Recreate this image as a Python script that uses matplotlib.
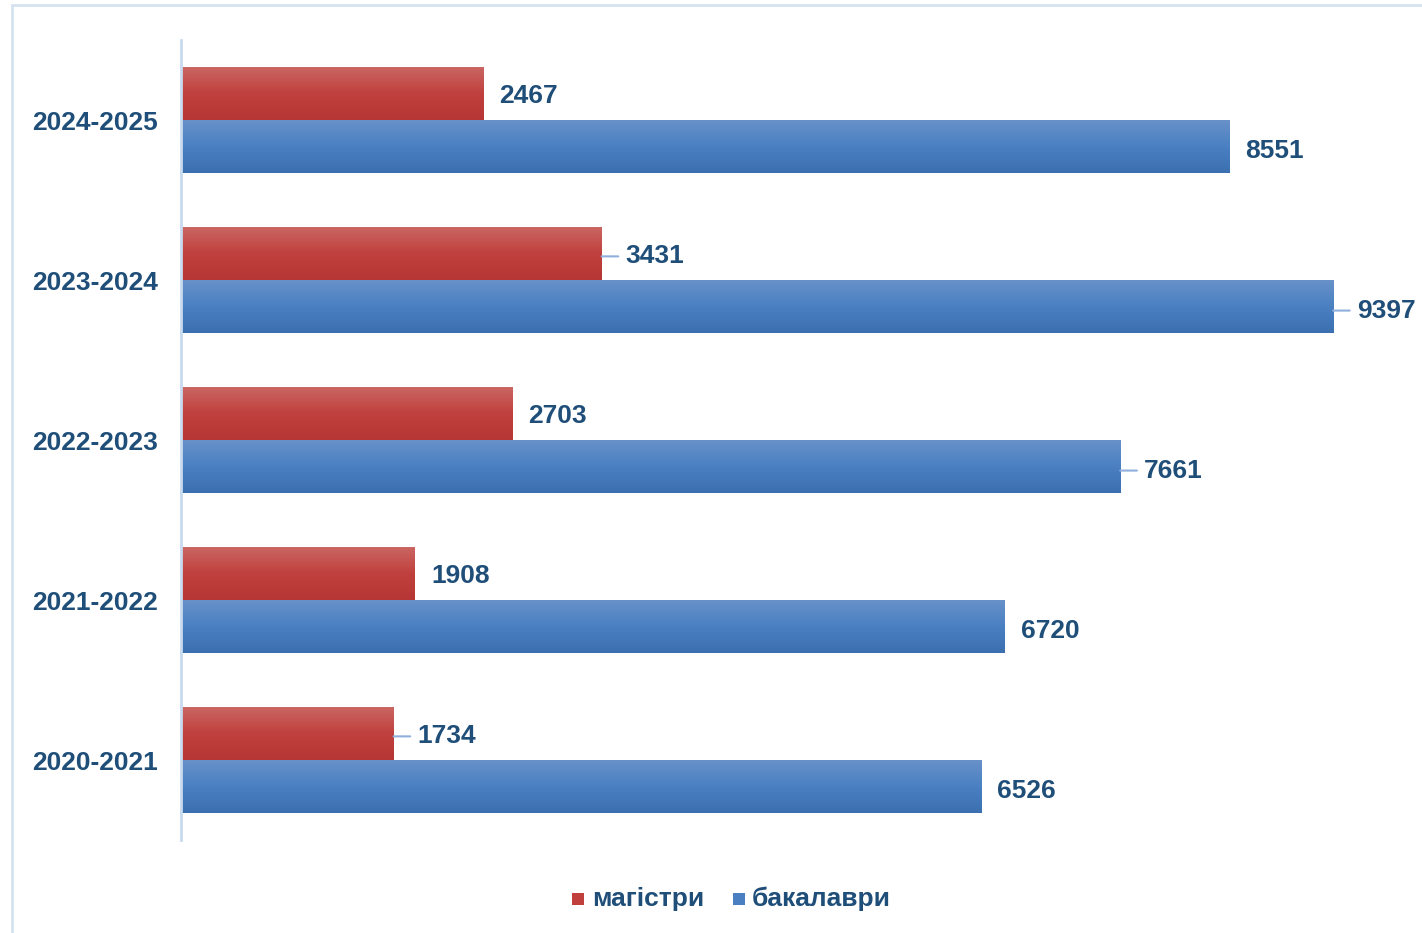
import matplotlib.pyplot as plt
import numpy as np
from matplotlib.patches import Rectangle
from matplotlib.colors import LinearSegmentedColormap
from matplotlib.transforms import offset_copy

years = ["2020-2021", "2021-2022", "2022-2023", "2023-2024", "2024-2025"]
masters = [1734, 1908, 2703, 3431, 2467]
bachelors = [6526, 6720, 7661, 9397, 8551]
# labels that Excel pulled out with a small leader line
masters_leader = [True, False, False, True, False]
bachelors_leader = [False, False, True, True, False]

text_color = "#1f4e79"
font = {'family': 'Liberation Sans', 'weight': 'bold', 'size': 19, 'color': text_color}

red_cmap = LinearSegmentedColormap.from_list("red", ["#b53634", "#c0403d", "#ca6663"])
blue_cmap = LinearSegmentedColormap.from_list("blue", ["#3b6fb0", "#4a80c2", "#6891c8"])

fig = plt.figure(figsize=(14.22, 9.33), dpi=100)
ax = fig.add_axes([181 / 1422, 1 - 840 / 933, (1407 - 181) / 1422, 800 / 933])

# outer chart border
fig.patches.append(Rectangle((12 / 1422, -0.1), 1.2, 1.1 - 5 / 933, transform=fig.transFigure,
                             fill=False, edgecolor="#d6e2f1", linewidth=2))

h = 0.33
y = np.arange(len(years))
grad = np.linspace(0, 1, 100).reshape(-1, 1)


def gradient_bars(ypos, values, cmap, leaders, dy):
    bars = ax.barh(ypos, values, height=h, color="none", edgecolor="none")
    shifted = offset_copy(ax.transData, fig=fig, x=0, y=dy, units="points")
    for b, v, lead in zip(bars, values, leaders):
        x0, y0 = b.get_x(), b.get_y()
        ax.imshow(grad, cmap=cmap, aspect="auto", origin="lower",
                  extent=[x0, x0 + b.get_width(), y0, y0 + b.get_height()], zorder=2)
        yc = y0 + b.get_height() / 2
        if lead:
            ax.annotate("", xy=(v, yc), xycoords=shifted, xytext=(12, 0), textcoords="offset points",
                        arrowprops=dict(arrowstyle="-", color="#8fb0dc", lw=1.5,
                                        shrinkA=0, shrinkB=0))
            off = 17
        else:
            off = 11.5
        ax.annotate(str(v), xy=(v, yc), xycoords=shifted, xytext=(off, 0), textcoords="offset points",
                    va="center", ha="left", **font)
    return bars


gradient_bars(y + h / 2, masters, red_cmap, masters_leader, -2)
gradient_bars(y - h / 2, bachelors, blue_cmap, bachelors_leader, -3)

ax.set_xlim(0, 10000)
ax.set_ylim(-0.5, 4.5)
ax.set_yticks(y)
ax.set_yticklabels(years, **font)
ax.tick_params(axis="y", length=0, pad=16.5)
ax.set_xticks([])
for s in ["top", "right", "bottom"]:
    ax.spines[s].set_visible(False)
ax.spines["left"].set_color("#c9daf0")
ax.spines["left"].set_linewidth(2)

# legend
lx = 572 / 1422
ly = 1 - 899 / 933
fig.patches.append(Rectangle((lx, ly - 6 / 933), 12 / 1422, 12 / 933, transform=fig.transFigure,
                             facecolor="#c0403d", edgecolor="none"))
fig.text(lx + 20 / 1422, ly, "магістри", va="center", ha="left", **font)
fig.patches.append(Rectangle((733 / 1422, ly - 6 / 933), 12 / 1422, 12 / 933, transform=fig.transFigure,
                             facecolor="#4a80c2", edgecolor="none"))
fig.text(752 / 1422, ly, "бакалаври", va="center", ha="left", **font)

plt.savefig("out.png", dpi=100)
